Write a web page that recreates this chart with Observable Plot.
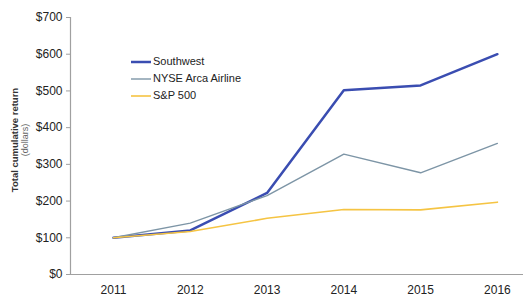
<!DOCTYPE html>
<html>
<head>
<meta charset="utf-8">
<script src="https://cdn.jsdelivr.net/npm/d3@7"></script>
<script src="https://cdn.jsdelivr.net/npm/@observablehq/plot@0.6"></script>
<style>
  html, body { margin: 0; padding: 0; background: #fff; }
  #wrap { position: relative; width: 523px; height: 299px; font-family: "Liberation Sans", Arial, sans-serif; }
  #legend { position: absolute; left: 131px; top: 53px; font-size: 11px; color: #222; line-height: 17px; }
  #legend div { display: flex; align-items: center; }
  #legend svg { margin-right: 2px; }
</style>
</head>
<body>
<div id="wrap"></div>
<script>
const years = [2011, 2012, 2013, 2014, 2015, 2016];
const southwest = [100, 120, 222, 502, 515, 600];
const nyseArca = [100, 140, 215, 328, 277, 357];
const sp500 = [100, 117, 153, 177, 176, 197];
const seriesNames = ["Southwest", "NYSE Arca Airline", "S&P 500"];
const seriesColors = ["#3a4db1", "#7d95a6", "#f5c443"];
const seriesWidths = [2.5, 1.4, 1.6];
const yTicks = [0, 100, 200, 300, 400, 500, 600, 700];

const allSeries = [southwest, nyseArca, sp500];
const data = [];
allSeries.forEach((vals, si) => vals.forEach((v, i) => data.push({year: years[i], value: v, series: seriesNames[si]})));

const xDomain = [2010.44, 2016.34];

const chart = Plot.plot({
  width: 523,
  height: 299,
  marginTop: 17,
  marginBottom: 25,
  marginLeft: 70,
  marginRight: 0,
  style: {fontFamily: "Liberation Sans, Arial, sans-serif", background: "#fff"},
  x: {domain: xDomain},
  y: {domain: [0, 700]},
  marks: [
    Plot.ruleY([0], {stroke: "#a0a0a0", strokeWidth: 1.2}),
    Plot.ruleX([xDomain[0]], {stroke: "#a0a0a0", strokeWidth: 1.2}),
    Plot.axisY({ticks: yTicks, tickFormat: d => "$" + d, tickSize: 4, tickPadding: 4, stroke: "#a0a0a0", fill: "#222", fontSize: 12, label: null}),
    Plot.axisX({ticks: years, tickFormat: d => String(d), tickSize: 0, tickPadding: 11, fill: "#222", fontSize: 12, label: null}),
    Plot.text(["Total cumulative return"], {frameAnchor: "left", textAnchor: "middle", rotate: -90, dx: -56, dy: -6, fontSize: 9.5, fill: "#333", fontWeight: "bold"}),
    Plot.text(["(dollars)"], {frameAnchor: "left", textAnchor: "middle", rotate: -90, dx: -45, dy: -6, fontSize: 9, fill: "#666"}),
    ...seriesNames.map((name, si) => Plot.line(data.filter(d => d.series === name), {
      x: "year", y: "value", stroke: seriesColors[si], strokeWidth: seriesWidths[si]
    }))
  ]
});
document.getElementById("wrap").appendChild(chart);

const legend = document.createElement("div");
legend.id = "legend";
seriesNames.forEach((name, si) => {
  const row = document.createElement("div");
  row.innerHTML = `<svg width="20" height="4"><line x1="0" x2="20" y1="2" y2="2" stroke="${seriesColors[si]}" stroke-width="${seriesWidths[si]}"/></svg><span></span>`;
  row.querySelector("span").textContent = name;
  legend.appendChild(row);
});
document.getElementById("wrap").appendChild(legend);
</script>
</body>
</html>
